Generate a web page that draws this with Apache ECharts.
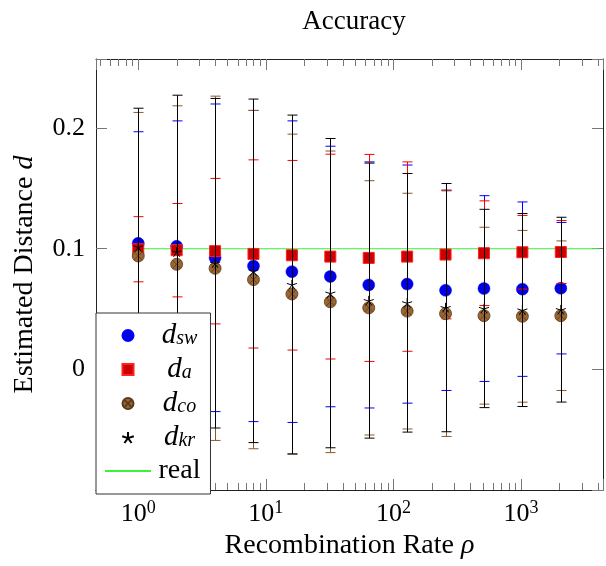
<!DOCTYPE html>
<html>
<head>
<meta charset="utf-8">
<script src="https://cdn.jsdelivr.net/npm/echarts@6/dist/echarts.min.js"></script>
<style>
html,body{margin:0;padding:0;background:#fff}
#chart{width:606px;height:566px}
</style>
</head>
<body>
<div id="chart"></div>
<script>
// recombination rates (x) and the four estimators: mean and error (+/-)
var rates = [1, 2, 4, 8, 16, 32, 64, 128, 256, 512, 1024, 2048];

var swMean = [0.1045, 0.102, 0.0925, 0.0857, 0.081, 0.077, 0.070, 0.0707, 0.0655, 0.067, 0.0665, 0.0673];
var swErr  = [0.0925, 0.104, 0.1275, 0.129, 0.125, 0.108, 0.102, 0.0987, 0.083, 0.077, 0.0723, 0.0545];

var aMean  = [0.0996, 0.0988, 0.098, 0.0957, 0.0946, 0.0935, 0.0924, 0.0935, 0.0952, 0.0963, 0.0971, 0.0973];
var aErr   = [0.027, 0.0387, 0.0603, 0.078, 0.0786, 0.0849, 0.0858, 0.0785, 0.0533, 0.0434, 0.0305, 0.0261];

var coMean = [0.094, 0.0871, 0.0838, 0.0744, 0.0625, 0.056, 0.051, 0.0483, 0.0462, 0.0445, 0.044, 0.0445];
var coErr  = [0.119, 0.1314, 0.1427, 0.1402, 0.1325, 0.125, 0.1054, 0.0977, 0.1018, 0.0733, 0.0712, 0.062];

var krMean = [0.1015, 0.0973, 0.088, 0.0817, 0.0703, 0.0632, 0.057, 0.0552, 0.0512, 0.0505, 0.0492, 0.0495];
var krErr  = [0.115, 0.130, 0.1366, 0.1424, 0.1405, 0.1282, 0.114, 0.1072, 0.1029, 0.0822, 0.080, 0.0766];

var realX = [1, 4096];
var realY = [0.1, 0.1];

var yTickValues = [0, 0.1, 0.2];
var minorTicks = [0.5, 0.6, 0.7, 0.8, 0.9, 2, 3, 4, 5, 6, 7, 8, 9,
                  20, 30, 40, 50, 60, 70, 80, 90, 200, 300, 400, 500, 600, 700, 800, 900,
                  2000, 3000, 4000];

var FONT = 'Liberation Serif';
var FS = 26;      // tick labels
var FN = 28;      // title and axis names
var TICKC = '#777';
var xMin = Math.pow(10, -0.331), xMax = Math.pow(10, 3.642);

var starPath = 'path://M0,0L0,-1M0,0L0.951,-0.309M0,0L0.588,0.809M0,0L-0.588,0.809M0,0L-0.951,-0.309';
var otimesPath = 'path://M-1,0A1,1,0,1,0,1,0A1,1,0,1,0,-1,0ZM-0.707,-0.707L0.707,0.707M-0.707,0.707L0.707,-0.707';
var squarePath = 'path://M0,0L1,0L1,1L0,1Z';

function pairs(xs, ys) {
    return xs.map(function (x, i) { return [x, ys[i]]; });
}

function errorBars(name, mean, err, color, z) {
    return {
        type: 'custom',
        name: name,
        z: z,
        silent: true,
        data: rates.map(function (r, i) { return [r, mean[i], err[i]]; }),
        encode: {x: 0, y: 1},
        renderItem: function (params, api) {
            var x = api.value(0), m = api.value(1), e = api.value(2);
            var top = api.coord([x, m + e]);
            var bot = api.coord([x, m - e]);
            var px = Math.round(top[0]) + 0.5;
            var st = {stroke: color, lineWidth: 1};
            return {
                type: 'group',
                children: [
                    {type: 'line', shape: {x1: px, y1: top[1], x2: px, y2: bot[1]}, style: st},
                    {type: 'line', shape: {x1: px - 5, y1: top[1], x2: px + 5, y2: top[1]}, style: st},
                    {type: 'line', shape: {x1: px - 5, y1: bot[1], x2: px + 5, y2: bot[1]}, style: st}
                ]
            };
        }
    };
}

var dom = document.getElementById('chart');
var myChart = echarts.init(dom, null, {renderer: 'canvas'});

function xLabel(v) {
    var l = Math.log(v) / Math.LN10;
    var e = Math.round(l);
    if (Math.abs(l - e) > 1e-6) return '';
    return '{n|10}{s|' + e + '}';
}
function yLabel(v) {
    for (var i = 0; i < yTickValues.length; i++) {
        if (Math.abs(v - yTickValues[i]) < 1e-9) return String(yTickValues[i]);
    }
    return '';
}

var xCommon = {
    type: 'log',
    logBase: 10,
    min: xMin,
    max: xMax,
    splitLine: {show: false},
    axisLine: {onZero: false, lineStyle: {color: '#222', width: 1}},
    axisTick: {inside: true, length: 11, lineStyle: {color: TICKC}},
    minorTick: {show: false}
};
var yCommon = {
    type: 'value',
    min: -0.1,
    max: 0.2573,
    interval: 0.1,
    splitLine: {show: false},
    axisLine: {show: true, onZero: false, lineStyle: {color: '#222', width: 1}},
    axisTick: {show: true, inside: true, length: 11, lineStyle: {color: TICKC}}
};

var option = {
    animation: false,
    backgroundColor: '#fff',
    title: {
        text: 'Accuracy',
        left: 349,
        textAlign: 'center',
        top: 3,
        textStyle: {fontFamily: FONT, fontSize: 27, fontWeight: 'normal', color: '#000'}
    },
    grid: {left: 96, right: -7, top: 59, bottom: 76, containLabel: false},
    xAxis: [
        Object.assign({}, xCommon, {
            position: 'bottom',
            name: 'Recombination Rate {r|ρ}',
            nameLocation: 'middle',
            nameGap: 39,
            nameTextStyle: {
                fontFamily: FONT, fontSize: FN, color: '#000',
                rich: {r: {fontFamily: FONT, fontSize: FN, fontStyle: 'italic', color: '#000'}}
            },
            axisLabel: {
                margin: 9,
                formatter: xLabel,
                rich: {
                    n: {fontFamily: FONT, fontSize: FS, lineHeight: 30, color: '#000'},
                    s: {fontFamily: FONT, fontSize: 18, lineHeight: 18, verticalAlign: 'top', color: '#000'}
                }
            }
        }),
        Object.assign({}, xCommon, {position: 'top', axisLabel: {show: false}})
    ],
    yAxis: [
        Object.assign({}, yCommon, {
            position: 'left',
            name: 'Estimated Distance {d|d}',
            nameLocation: 'middle',
            nameGap: 57,
            nameTextStyle: {
                fontFamily: FONT, fontSize: FN, color: '#000',
                rich: {d: {fontFamily: FONT, fontSize: FN, fontStyle: 'italic', color: '#000'}}
            },
            axisLabel: {margin: 11, formatter: yLabel, fontFamily: FONT, fontSize: FS, color: '#000'}
        }),
        Object.assign({}, yCommon, {position: 'right', axisLabel: {show: false}})
    ],
    legend: {
        orient: 'vertical',
        left: 96,
        top: 313,
        z: 20,
        data: ['d_sw', 'd_a', 'd_co', 'd_kr',
               {name: 'real', itemStyle: {color: 'rgba(0,0,0,0)', borderWidth: 0, opacity: 0}}],
        backgroundColor: '#fff',
        borderColor: '#333',
        borderWidth: 1,
        borderRadius: 0,
        padding: [8, 10, 9, 8],
        itemGap: 5,
        itemWidth: 46,
        itemHeight: 11,
        selectedMode: false,
        formatter: function (name) {
            if (name === 'real') return '{r|real}';
            return '{d|d}{sub|' + name.split('_')[1] + '}';
        },
        textStyle: {
            width: 47,
            rich: {
                d: {fontFamily: FONT, fontStyle: 'italic', fontSize: 29, lineHeight: 26, align: 'center', color: '#000'},
                sub: {fontFamily: FONT, fontStyle: 'italic', fontSize: 20, lineHeight: 12, verticalAlign: 'bottom', align: 'center', color: '#000'},
                r: {fontFamily: FONT, fontSize: 28, lineHeight: 26, align: 'center', color: '#000'}
            }
        }
    },
    series: [
        {
            name: 'real',
            type: 'line',
            z: 1,
            data: pairs(realX, realY),
            symbol: 'none',
            lineStyle: {color: '#3cf03c', width: 1},
            itemStyle: {color: '#3cf03c'}
        },
        {
            name: 'minor ticks',
            type: 'custom',
            z: 1,
            silent: true,
            data: minorTicks.map(function (v) { return [v, 0]; }),
            encode: {x: 0, y: 1},
            renderItem: function (params, api) {
                var p = api.coord([api.value(0), 0]);
                var cs = params.coordSys;
                var px = Math.round(p[0]) + 0.5;
                var st = {stroke: TICKC, lineWidth: 1};
                return {
                    type: 'group',
                    children: [
                        {type: 'line', shape: {x1: px, y1: cs.y + cs.height, x2: px, y2: cs.y + cs.height - 7}, style: st},
                        {type: 'line', shape: {x1: px, y1: cs.y, x2: px, y2: cs.y + 7}, style: st}
                    ]
                };
            }
        },
        errorBars('err_sw', swMean, swErr, '#0000ff', 2),
        {
            name: 'd_sw', type: 'scatter', z: 3,
            data: pairs(rates, swMean),
            symbol: 'circle', symbolSize: 12,
            itemStyle: {color: '#0000e6', borderColor: '#0000ff', borderWidth: 0.5, opacity: 1}
        },
        errorBars('err_a', aMean, aErr, '#ff0000', 4),
        {
            name: 'd_a', type: 'scatter', z: 5,
            data: pairs(rates, aMean),
            symbol: squarePath, symbolSize: 11, symbolKeepAspect: true,
            itemStyle: {color: '#cc0000', borderColor: '#ff2020', borderWidth: 1, opacity: 1}
        },
        errorBars('err_co', coMean, coErr, '#8b5a2b', 6),
        {
            name: 'd_co', type: 'scatter', z: 7,
            data: pairs(rates, coMean),
            symbol: otimesPath, symbolSize: 12, symbolKeepAspect: true,
            itemStyle: {color: '#996633', borderColor: '#5c3a1a', borderWidth: 0.8, opacity: 1}
        },
        errorBars('err_kr', krMean, krErr, '#000000', 8),
        {
            name: 'd_kr', type: 'scatter', z: 9,
            data: pairs(rates, krMean),
            symbol: starPath, symbolSize: 10, symbolKeepAspect: true,
            itemStyle: {color: 'rgba(0,0,0,0)', borderColor: '#000', borderWidth: 1, opacity: 1}
        }
    ]
};

if (option && typeof option === 'object') {
    myChart.setOption(option);
}
window.addEventListener('resize', myChart.resize);
</script>
</body>
</html>
